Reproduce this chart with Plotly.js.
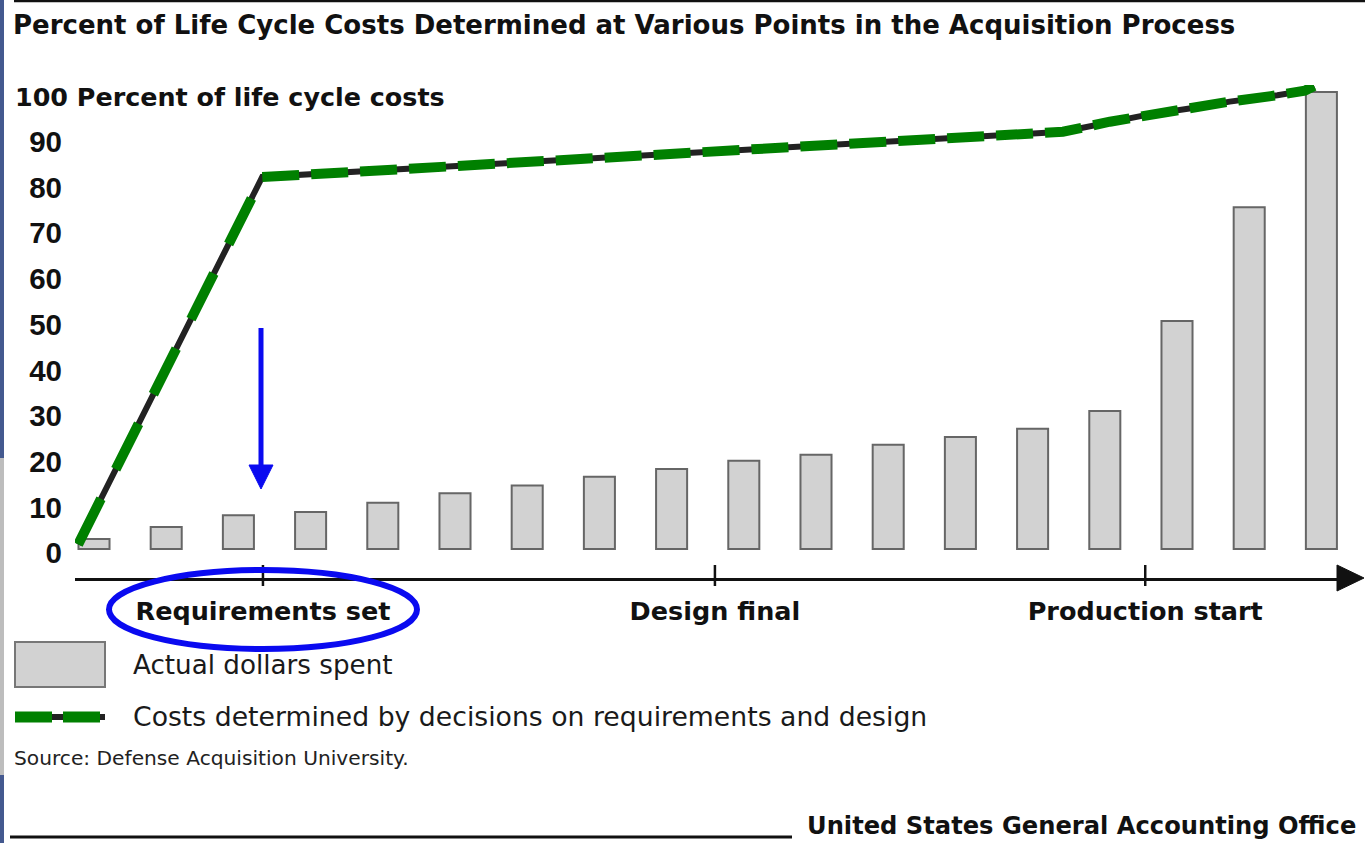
<!DOCTYPE html>
<html>
<head>
<meta charset="utf-8">
<script src="https://cdn.plot.ly/plotly-3.0.1.min.js"></script>
<style>
  html, body { margin: 0; padding: 0; background: #ffffff; }
  #chart { width: 1365px; height: 843px; }
</style>
</head>
<body>
<div id="chart"></div>
<script>
// ---------------- data ----------------
const titleText = "Percent of Life Cycle Costs Determined at Various Points in the Acquisition Process";
const yAxisLabel = "100 Percent of life cycle costs";
const barIndex = [0, 1, 2, 3, 4, 5, 6, 7, 8, 9, 10, 11, 12, 13, 14, 15, 16, 17];
const actualSpent = [2.2, 4.8, 7.4, 8.1, 10.1, 12.2, 13.9, 15.8, 17.5, 19.3, 20.6, 22.8, 24.5, 26.3, 30.2, 49.9, 74.8, 100];
const lineX = [-0.22, 2.33, 13.42, 14.07, 14.58, 15.22, 15.73, 16.39, 16.77, 16.90];
const costsDetermined = [1.0, 81.4, 91.3, 93.5, 95.0, 96.5, 97.9, 99.3, 100.3, 101.3];
const milestoneX = [2.34, 8.60, 14.56];
const milestoneLabels = ["Requirements set", "Design final", "Production start"];
const yTickVals = [0, 10, 20, 30, 40, 50, 60, 70, 80, 90];
const legendBar = "Actual dollars spent";
const legendLine = "Costs determined by decisions on requirements and design";
const sourceText = "Source: Defense Acquisition University.";
const footerText = "United States General Accounting Office";

// ---------------- geometry helpers (pixel -> paper) ----------------
const W = 1365, H = 843, L = 75, R = 1340, T = 85, B = 578;
const px = p => (p - L) / (R - L);
const py = p => (B - p) / (B - T);

const dark = "#111111";
const green = "#008000";
const blue = "#0a0af0";

const traces = [
  {
    type: "bar", x: barIndex, y: actualSpent, width: 0.43,
    marker: { color: "#d2d2d2", line: { color: "#666666", width: 2 } },
    showlegend: false, hoverinfo: "skip"
  },
  {
    type: "scatter", mode: "lines", x: lineX, y: costsDetermined,
    line: { color: "#222222", width: 6 }, showlegend: false, hoverinfo: "skip"
  },
  {
    // steep rise up to "Requirements set"
    type: "scatter", mode: "lines", x: lineX.slice(0, 2), y: costsDetermined.slice(0, 2),
    line: { color: green, width: 10, dash: "51px,33px" }, showlegend: false, hoverinfo: "skip"
  },
  {
    // gentle part after requirements are set
    type: "scatter", mode: "lines", x: lineX.slice(1), y: costsDetermined.slice(1),
    line: { color: green, width: 10, dash: "37px,12px" }, showlegend: false, hoverinfo: "skip"
  }
];

const shapes = [];
// milestone ticks crossing the axis
milestoneX.forEach(v => shapes.push({
  type: "line", xref: "x", yref: "paper", x0: v, x1: v, y0: py(565), y1: py(586),
  line: { color: dark, width: 2.5 }
}));
// arrowhead at the end of the x axis
shapes.push({
  type: "path", xref: "paper", yref: "paper",
  path: `M ${px(1337)} ${py(565)} L ${px(1364)} ${py(578)} L ${px(1337)} ${py(591)} Z`,
  fillcolor: dark, line: { color: dark, width: 1 }
});
// blue arrow
shapes.push({
  type: "line", xref: "paper", yref: "paper",
  x0: px(261), x1: px(261), y0: py(328), y1: py(468),
  line: { color: blue, width: 5 }
});
shapes.push({
  type: "path", xref: "paper", yref: "paper",
  path: `M ${px(249)} ${py(465)} L ${px(273)} ${py(465)} L ${px(261)} ${py(489)} Z`,
  fillcolor: blue, line: { color: blue, width: 1 }
});
// blue ellipse around "Requirements set"
shapes.push({
  type: "circle", xref: "paper", yref: "paper",
  x0: px(109), x1: px(417), y0: py(649), y1: py(570),
  line: { color: blue, width: 6 }
});
// legend swatches
shapes.push({
  type: "rect", xref: "paper", yref: "paper",
  x0: px(15), x1: px(105), y0: py(687), y1: py(642),
  fillcolor: "#d2d2d2", line: { color: "#777777", width: 2 }
});
shapes.push({
  type: "line", xref: "paper", yref: "paper",
  x0: px(15), x1: px(105), y0: py(717), y1: py(717),
  line: { color: "#222222", width: 6 }
});
[[15, 52], [63, 100]].forEach(s => shapes.push({
  type: "line", xref: "paper", yref: "paper",
  x0: px(s[0]), x1: px(s[1]), y0: py(717), y1: py(717),
  line: { color: green, width: 11 }
}));
// top rule and footer rule
shapes.push({
  type: "line", xref: "paper", yref: "paper",
  x0: px(14), x1: px(1366), y0: py(1), y1: py(1),
  line: { color: dark, width: 2.5 }
});
shapes.push({
  type: "line", xref: "paper", yref: "paper",
  x0: px(10), x1: px(792), y0: py(837), y1: py(837),
  line: { color: dark, width: 3 }
});
// slide edge remnants on the left
shapes.push({ type: "rect", xref: "paper", yref: "paper", x0: px(0), x1: px(4), y0: py(0), y1: py(458), fillcolor: "#44598f", line: { width: 0 } });
shapes.push({ type: "rect", xref: "paper", yref: "paper", x0: px(0), x1: px(4), y0: py(458), y1: py(775), fillcolor: "#bdbdbd", line: { width: 0 } });
shapes.push({ type: "rect", xref: "paper", yref: "paper", x0: px(0), x1: px(4), y0: py(775), y1: py(843), fillcolor: "#44598f", line: { width: 0 } });

const textFont = (size, bold, color) => ({ family: "DejaVu Sans", size: size, color: color || dark, weight: bold ? "bold" : "normal" });

const annotations = [
  {
    text: yAxisLabel, xref: "paper", yref: "y", x: px(13), y: 100, yshift: -5,
    xanchor: "left", yanchor: "middle", showarrow: false, font: textFont(25.4, true)
  },
  {
    text: legendBar, xref: "paper", yref: "paper", x: px(131), y: py(665),
    xanchor: "left", yanchor: "middle", showarrow: false, font: textFont(26.2, false, "#1a1a1a")
  },
  {
    text: legendLine, xref: "paper", yref: "paper", x: px(131), y: py(716),
    xanchor: "left", yanchor: "middle", showarrow: false, font: textFont(26.7, false, "#1a1a1a")
  },
  {
    text: sourceText, xref: "paper", yref: "paper", x: px(12), y: py(758),
    xanchor: "left", yanchor: "middle", showarrow: false, font: textFont(20.2, false, "#222222")
  },
  {
    text: footerText, xref: "paper", yref: "paper", x: px(805), y: py(826),
    xanchor: "left", yanchor: "middle", showarrow: false, font: textFont(24.2, true)
  }
];

const layout = {
  width: W, height: H, autosize: false,
  margin: { l: L, r: W - R, t: T, b: H - B, pad: 0 },
  paper_bgcolor: "#ffffff", plot_bgcolor: "#ffffff",
  showlegend: false,
  title: {
    text: titleText, xref: "container", yref: "container",
    x: 13 / W, xanchor: "left", y: 1 - 25 / H, yanchor: "middle",
    font: textFont(26.0, true)
  },
  xaxis: {
    range: [(L - 94) / 72.2, (R - 94) / 72.2],
    showgrid: false, zeroline: false,
    showline: true, linecolor: dark, linewidth: 3,
    tickmode: "array", tickvals: milestoneX, ticktext: milestoneLabels,
    ticks: "", ticklabelstandoff: 8,
    tickfont: textFont(25.5, true), fixedrange: true
  },
  yaxis: {
    range: [-(B - 549) / 4.57, (549 - T) / 4.57],
    showgrid: false, zeroline: false, showline: false,
    tickmode: "array", tickvals: yTickVals,
    ticks: "", ticklabelstandoff: 12, ticklabelshift: 4,
    tickfont: { family: "Liberation Sans", size: 29.5, color: dark, weight: "bold" },
    fixedrange: true
  },
  bargap: 0.5,
  shapes: shapes,
  annotations: annotations
};

Plotly.newPlot("chart", traces, layout, { staticPlot: true, displayModeBar: false });
</script>
</body>
</html>
